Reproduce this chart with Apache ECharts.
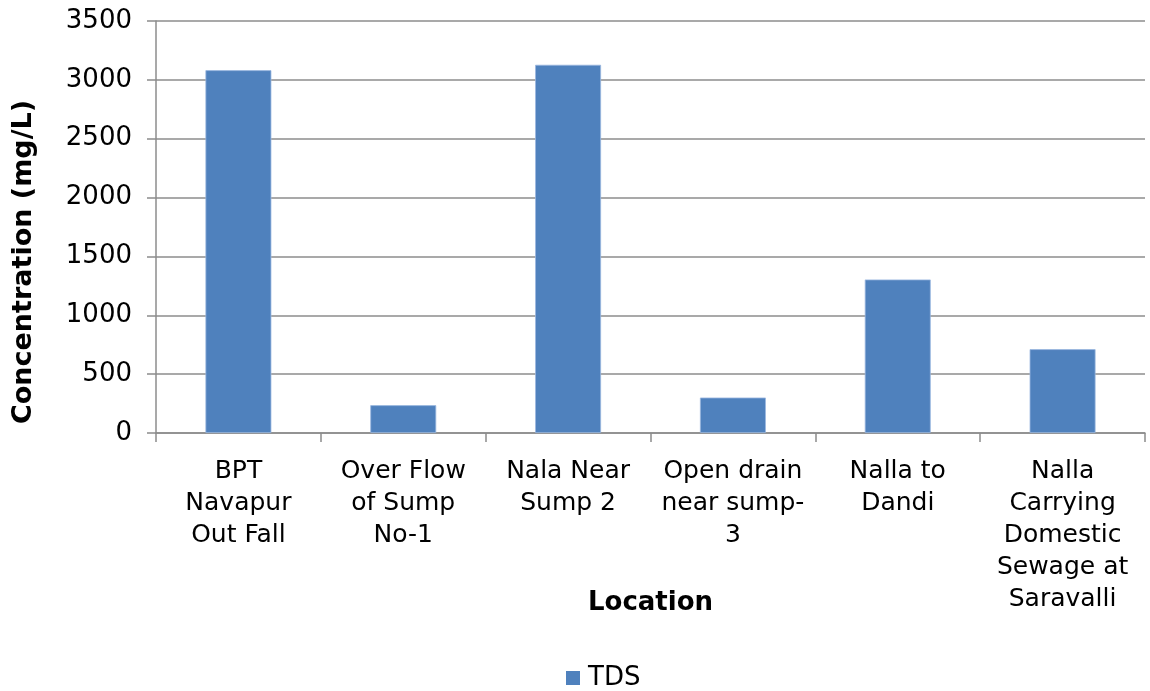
<!DOCTYPE html>
<html>
<head>
<meta charset="utf-8">
<script src="https://cdn.jsdelivr.net/npm/echarts@6/dist/echarts.min.js"></script>
<style>
  html, body { margin: 0; padding: 0; background: #ffffff; }
  #chart { width: 1150px; height: 691px; }
</style>
</head>
<body>
<div id="chart"></div>
<script>
// Sampling locations (line-wrapped for the category axis)
const locations = [
  'BPT\nNavapur\nOut Fall',
  'Over Flow\nof Sump\nNo-1',
  'Nala Near\nSump 2',
  'Open drain\nnear sump-\n3',
  'Nalla to\nDandi',
  'Nalla\nCarrying\nDomestic\nSewage at\nSaravalli'
];

// Total dissolved solids, mg/L
const tdsValues = [3082, 236, 3128, 301, 1304, 712];

const seriesName = 'TDS';
const yTicks = { min: 0, max: 3500, interval: 500 };

const gridColor = '#8c8c8c';
const barColor = '#4f81bd';
const textFont = 'DejaVu Sans, Verdana, sans-serif';

const chart = echarts.init(document.getElementById('chart'), null, { renderer: 'canvas' });

chart.setOption({
  animation: false,
  backgroundColor: '#ffffff',
  grid: { left: 156, right: 5, top: 21, bottom: 258, containLabel: false },
  legend: {
    data: [seriesName],
    top: 665,
    left: 566,
    padding: 0,
    itemWidth: 14,
    itemHeight: 14,
    icon: 'rect',
    itemStyle: { color: barColor, borderWidth: 0 },
    textStyle: { fontFamily: textFont, fontSize: 26, color: '#000000', padding: [0, 0, 0, 3] }
  },
  xAxis: {
    type: 'category',
    data: locations,
    name: 'Location',
    nameLocation: 'middle',
    nameGap: 157,
    nameMoveOverlap: false,
    nameTextStyle: { fontFamily: textFont, fontSize: 26, fontWeight: 'bold', color: '#000000' },
    axisLine: { lineStyle: { color: gridColor, width: 1.5 } },
    axisTick: { show: true, length: 9, lineStyle: { color: gridColor, width: 1.5 } },
    axisLabel: {
      interval: 0,
      margin: 22,
      fontFamily: textFont,
      fontSize: 25,
      lineHeight: 32,
      color: '#000000',
      align: 'center'
    }
  },
  yAxis: {
    type: 'value',
    min: yTicks.min,
    max: yTicks.max,
    interval: yTicks.interval,
    name: 'Concentration (mg/L)',
    nameLocation: 'middle',
    nameGap: 119,
    nameMoveOverlap: false,
    nameRotate: 90,
    nameTextStyle: {
      fontFamily: textFont, fontSize: 27, fontWeight: 'bold', color: '#000000',
      padding: [0, 70, 0, 0]
    },
    axisLine: { show: true, lineStyle: { color: gridColor, width: 1.5 } },
    axisTick: { show: true, length: 9, lineStyle: { color: gridColor, width: 1.5 } },
    axisLabel: {
      margin: 24,
      fontFamily: textFont,
      fontSize: 26,
      color: '#000000',
      formatter: (v) => String(v)
    },
    splitLine: { show: true, lineStyle: { color: gridColor, width: 1.5 } }
  },
  series: [{
    name: seriesName,
    type: 'bar',
    data: tdsValues,
    barCategoryGap: '60%',
    itemStyle: { color: barColor, borderColor: '#9ab8df', borderWidth: 0.8 }
  }]
});
</script>
</body>
</html>
